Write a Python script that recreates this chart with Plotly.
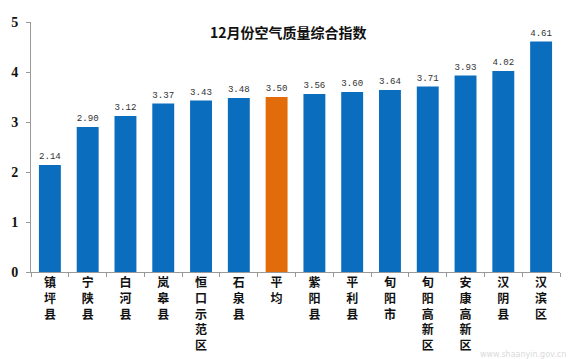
import plotly.graph_objects as go

categories = ["镇坪县", "宁陕县", "白河县", "岚皋县", "恒口示范区", "石泉县", "平均",
              "紫阳县", "平利县", "旬阳市", "旬阳高新区", "安康高新区", "汉阴县", "汉滨区"]
values = [2.14, 2.90, 3.12, 3.37, 3.43, 3.48, 3.50, 3.56, 3.60, 3.64, 3.71, 3.93, 4.02, 4.61]
value_labels = [f"{v:.2f}" for v in values]
y_ticks = [0, 1, 2, 3, 4, 5]
title_text = "12月份空气质量综合指数"
watermark = "www.shaanyin.gov.cn"

BLUE = "#0B6DBE"
ORANGE = "#E36C0A"
colors = [ORANGE if c == "平均" else BLUE for c in categories]
vert_labels = ["<br>".join(list(c)) for c in categories]

fig = go.Figure(go.Bar(
    x=categories, y=values, marker=dict(color=colors, line=dict(width=0)),
    width=0.58, text=value_labels, textposition="outside", cliponaxis=False,
    textfont=dict(family="Liberation Mono", size=10, color="#333333"),
))

# page body has an 8px default margin, so the figure is sized to fit the window
fig.update_layout(
    width=571, height=351, plot_bgcolor="white", paper_bgcolor="white",
    margin=dict(l=23, r=19, t=14, b=87, autoexpand=False), showlegend=False,
)
fig.add_annotation(text=title_text, x=0.487, y=0.96, xref="paper", yref="paper",
                   xanchor="center", yanchor="middle", showarrow=False,
                   font=dict(family="Noto Sans CJK SC", size=14, color="#111111", weight="bold"))
fig.update_xaxes(
    tickmode="array", tickvals=categories, ticktext=vert_labels, automargin=False,
    showline=True, linecolor="#999999", linewidth=1, ticks="outside", tickson="boundaries",
    ticklen=4, tickcolor="#999999", showgrid=False,
    tickfont=dict(family="Noto Sans CJK SC", size=12, color="#111111", weight="bold"),
)
fig.update_yaxes(
    range=[0, 5], tickvals=y_ticks, showline=True, linecolor="#999999", linewidth=1,
    ticks="outside", ticklen=4, tickcolor="#999999", showgrid=False, zeroline=False,
    automargin=False, ticklabelstandoff=5,
    tickfont=dict(family="Liberation Serif", size=14, color="#111111", weight="bold"),
)
fig.add_annotation(text=watermark, x=1.015, y=-0.33, xref="paper", yref="paper",
                   xanchor="right", yanchor="middle", showarrow=False,
                   font=dict(family="DejaVu Sans", size=8, color="rgba(200,200,200,0.7)"))

fig.write_html("out.html")
